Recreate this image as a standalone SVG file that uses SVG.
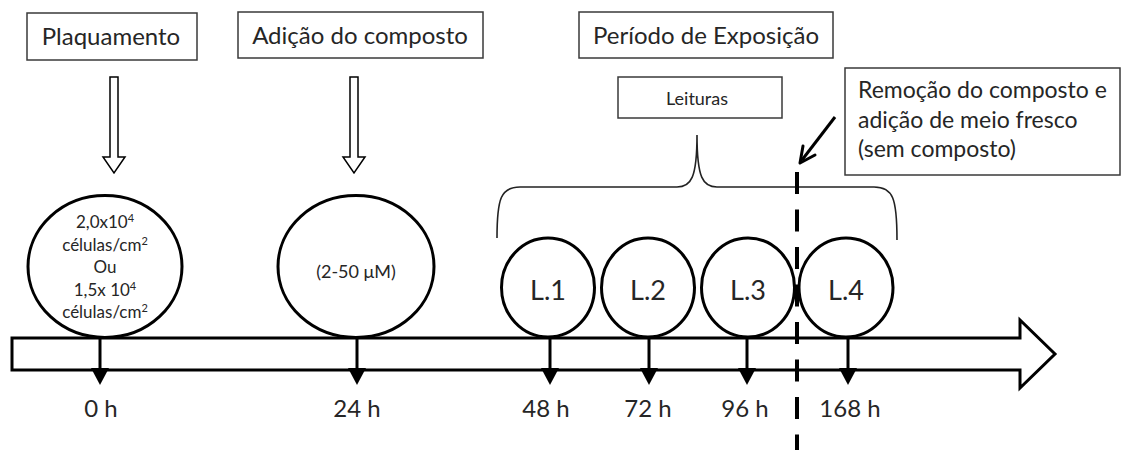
<svg xmlns="http://www.w3.org/2000/svg" width="1134" height="450" viewBox="0 0 1134 450">
<defs>
<style>
.box{fill:#fff;stroke:#3a3a3a;stroke-width:1.5}
.t{font-family:Lato,"Open Sans",sans-serif;fill:#262626;text-anchor:middle}
.big{font-size:24px}
.mid{font-size:23px}
.ln{fill:#fff;stroke:#000;stroke-width:3}
.drop{stroke:#000;stroke-width:3;fill:none}
</style>
</defs>
<rect width="1134" height="450" fill="#fff"/>
<g id="connectors">
<path id="timeline" class="ln" d="M12,338 H1020 V320 L1055,354 L1020,388 V370 H12 Z"/>
<path class="box" style="stroke:#000;stroke-width:1.5" d="M110,77 H118 V157 H125 L114,173 L103,157 H110 Z"/>
<path class="box" style="stroke:#000;stroke-width:1.5" d="M350,77 H358 V157 H365 L354,173 L343,157 H350 Z"/>
<path d="M497,238 C497,198 501,187 520,187 L677,187 C691,187 697,178 697,135 C697,178 703,187 717,187 L874,187 C893,187 897,198 897,240" fill="none" stroke="#222" stroke-width="1.6"/>
<line x1="835" y1="117" x2="802" y2="160" stroke="#000" stroke-width="3"/>
<path d="M800,163 L803,146 M800,163 L815,155" stroke="#000" stroke-width="3" fill="none" stroke-linecap="round"/>
</g>
<g id="n-plaq"><rect class="box" x="27" y="13" width="170" height="47"/><text class="t big" x="111" y="45">Plaquamento</text></g>
<g id="n-adic"><rect class="box" x="238" y="12" width="245" height="46"/><text class="t big" x="360" y="44">Adição do composto</text></g>
<g id="n-periodo"><rect class="box" x="579" y="12" width="254" height="46"/><text class="t big" x="706" y="44">Período de Exposição</text></g>
<g id="n-leituras"><rect class="box" x="618" y="77" width="164" height="41"/><text class="t" style="font-size:18px" x="697" y="105">Leituras</text></g>
<g id="n-remocao"><rect class="box" x="845" y="68" width="275" height="107"/>
<text class="t mid" style="text-anchor:start" x="858" y="98">Remoção do composto e</text>
<text class="t mid" style="text-anchor:start" x="858" y="127.5">adição de meio fresco</text>
<text class="t mid" style="text-anchor:start" x="858" y="157">(sem composto)</text></g>
<g id="n-c1"><ellipse class="ln" cx="105" cy="266.5" rx="77" ry="71"/>
<g class="t" style="font-size:17px">
<text x="105" y="228">2,0x10<tspan dy="-6" style="font-size:11px">4</tspan></text>
<text x="105" y="251">células/cm<tspan dy="-6" style="font-size:11px">2</tspan></text>
<text x="105" y="273">Ou</text>
<text x="105" y="296">1,5x 10<tspan dy="-6" style="font-size:11px">4</tspan></text>
<text x="105" y="318">células/cm<tspan dy="-6" style="font-size:11px">2</tspan></text>
</g></g>
<g id="n-c2"><ellipse class="ln" cx="356" cy="266.5" rx="78" ry="71"/><text class="t" style="font-size:18px" x="356" y="278">(2-50 μM)</text></g>
<g id="n-l1"><ellipse class="ln" cx="548" cy="287.5" rx="46.5" ry="49.5"/><text class="t" style="font-size:27px" x="548" y="300">L.1</text></g>
<g id="n-l2"><ellipse class="ln" cx="648" cy="287.5" rx="46.5" ry="49.5"/><text class="t" style="font-size:27px" x="648" y="300">L.2</text></g>
<g id="n-l3"><ellipse class="ln" cx="748" cy="287.5" rx="46.5" ry="49.5"/><text class="t" style="font-size:27px" x="748" y="300">L.3</text></g>
<g id="n-l4"><ellipse class="ln" cx="846" cy="287.5" rx="47" ry="49.5"/><text class="t" style="font-size:27px" x="846" y="300">L.4</text></g>
<g id="drops">
<path class="drop" d="M100,338 V372"/><path d="M91,368 H109 L100,385 Z"/>
<path class="drop" d="M357,338 V372"/><path d="M348,368 H366 L357,385 Z"/>
<path class="drop" d="M550,338 V372"/><path d="M541,368 H559 L550,385 Z"/>
<path class="drop" d="M649,338 V372"/><path d="M640,368 H658 L649,385 Z"/>
<path class="drop" d="M747,338 V372"/><path d="M738,368 H756 L747,385 Z"/>
<path class="drop" d="M848,338 V372"/><path d="M839,368 H857 L848,385 Z"/>
</g>
<line id="dashed" x1="797" y1="172" x2="797" y2="450" stroke="#000" stroke-width="4" stroke-dasharray="22 15.5"/>
<g id="labels" class="t big">
<text x="101" y="417">0 h</text>
<text x="357" y="417">24 h</text>
<text x="546" y="417">48 h</text>
<text x="648" y="417">72 h</text>
<text x="745" y="417">96 h</text>
<text x="850" y="417">168 h</text>
</g>
</svg>
